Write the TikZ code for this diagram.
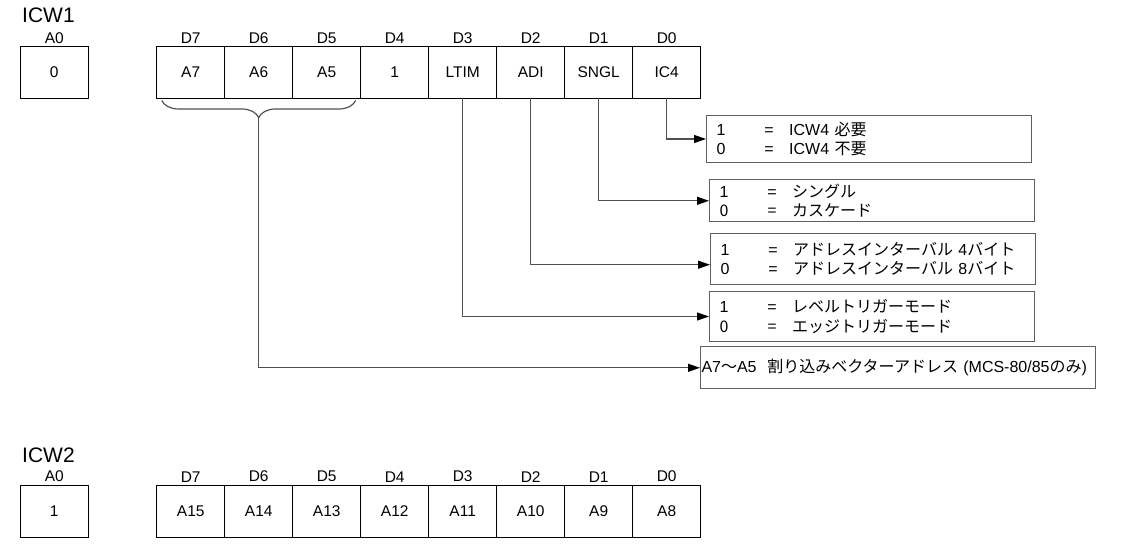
\documentclass[tikz,border=0pt]{standalone}
\usepackage{fontspec}
\setmainfont{Liberation Sans}
\newfontfamily\jpfont{Noto Sans CJK JP}
\usetikzlibrary{positioning, arrows.meta, decorations.pathreplacing}
\definecolor{linegray}{RGB}{80,80,80}
\definecolor{boxgray}{RGB}{95,95,95}
\tikzset{
  regtitle/.style={
    font=\fontsize{21}{24}\selectfont, inner sep=0pt, anchor=west
  },
  bitcell/.style={
    draw=black, line width=0.9pt, outer sep=0pt, inner sep=0pt,
    minimum width=68pt, minimum height=52pt,
    font=\fontsize{15.5}{18}\selectfont
  },
  bitlabel/.style={
    font=\fontsize{15.5}{18}\selectfont, inner sep=0pt
  },
  descbox/.style={
    draw=boxgray, line width=1pt, anchor=north west,
    inner xsep=10pt, inner ysep=0pt, text width=305pt, align=left,
    font=\fontsize{16}{19.3}\selectfont
  },
  connector/.style={
    draw=linegray, line width=1.2pt,
    -{Triangle[length=12pt, width=8pt, black]}
  },
}
\newcommand{\bitrow}[2]{\makebox[48pt][l]{#1}\makebox[24.7pt][l]{=}#2}

\begin{document}
\begin{tikzpicture}[x=1pt, y=-1pt]
  \useasboundingbox (0,0) rectangle (1125,556);

  % ICW1
  \node[regtitle] (icwone) at (22,15) {ICW1};
  \node[bitcell] (w1a0) at (54.3,72.5) {0};
  \node[bitcell] (w1d7) at (190.7,72.5) {A7};
  \node[bitcell, right=0pt of w1d7] (w1d6) {A6};
  \node[bitcell, right=0pt of w1d6] (w1d5) {A5};
  \node[bitcell, right=0pt of w1d5] (w1d4) {1};
  \node[bitcell, right=0pt of w1d4] (w1d3) {LTIM};
  \node[bitcell, right=0pt of w1d3] (w1d2) {ADI};
  \node[bitcell, right=0pt of w1d2] (w1d1) {SNGL};
  \node[bitcell, right=0pt of w1d1] (w1d0) {IC4};

  \node[bitlabel, above=3pt of w1a0] (w1a0lbl) {A0};
  \node[bitlabel, above=3pt of w1d7] (w1d7lbl) {D7};
  \node[bitlabel, above=3pt of w1d6] (w1d6lbl) {D6};
  \node[bitlabel, above=3pt of w1d5] (w1d5lbl) {D5};
  \node[bitlabel, above=3pt of w1d4] (w1d4lbl) {D4};
  \node[bitlabel, above=3pt of w1d3] (w1d3lbl) {D3};
  \node[bitlabel, above=3pt of w1d2] (w1d2lbl) {D2};
  \node[bitlabel, above=3pt of w1d1] (w1d1lbl) {D1};
  \node[bitlabel, above=3pt of w1d0] (w1d0lbl) {D0};

  % Bit descriptions
  \node[descbox, minimum height=47pt] (ic4desc) at (706,115)
        {\bitrow{1}{ICW4 {\jpfont 必要}}\\ \bitrow{0}{ICW4 {\jpfont 不要}}};
  \node[descbox, minimum height=42pt] (sngldesc) at (709,179.3)
        {\bitrow{1}{\jpfont シングル}\\ \bitrow{0}{\jpfont カスケード}};
  \node[descbox, minimum height=51pt] (adidesc) at (710,232.7)
        {\bitrow{1}{{\jpfont アドレスインターバル} 4{\jpfont バイト}}\\
         \bitrow{0}{{\jpfont アドレスインターバル} 8{\jpfont バイト}}};
  \node[descbox, minimum height=50pt] (ltimdesc) at (709,291)
        {\bitrow{1}{\jpfont レベルトリガーモード}\\ \bitrow{0}{\jpfont エッジトリガーモード}};
  \node[descbox, minimum height=42pt, inner xsep=1pt, text width=393pt] (vecdesc) at (700,346.3)
        {A7{\jpfont 〜}A5\ \ {\jpfont 割り込みベクターアドレス} (MCS-80/85{\jpfont のみ})};

  % Brace under A7-A5
  \draw[draw=linegray, line width=1.2pt, decorate, decoration={brace, amplitude=17pt}]
        ([xshift=-5pt, yshift=-2pt]w1d5.south east) -- ([xshift=5pt, yshift=-2pt]w1d7.south west);
  \coordinate (bracetip) at (258.5,118);

  % Connectors
  \draw[connector] (w1d0.south) |- (ic4desc.west);
  \draw[connector] (w1d1.south) |- (sngldesc.west);
  \draw[connector] (w1d2.south) |- ([yshift=-6pt]adidesc.west);
  \draw[connector] (w1d3.south) |- (ltimdesc.west);
  \draw[connector] (bracetip) |- (vecdesc.west);

  % ICW2
  \node[regtitle] (icwtwo) at (22,455) {ICW2};
  \node[bitcell] (w2a0) at (54.3,511.3) {1};
  \node[bitcell] (w2d7) at (190.7,511.3) {A15};
  \node[bitcell, right=0pt of w2d7] (w2d6) {A14};
  \node[bitcell, right=0pt of w2d6] (w2d5) {A13};
  \node[bitcell, right=0pt of w2d5] (w2d4) {A12};
  \node[bitcell, right=0pt of w2d4] (w2d3) {A11};
  \node[bitcell, right=0pt of w2d3] (w2d2) {A10};
  \node[bitcell, right=0pt of w2d2] (w2d1) {A9};
  \node[bitcell, right=0pt of w2d1] (w2d0) {A8};

  \node[bitlabel, above=3pt of w2a0] (w2a0lbl) {A0};
  \node[bitlabel, above=3pt of w2d7] (w2d7lbl) {D7};
  \node[bitlabel, above=3pt of w2d6] (w2d6lbl) {D6};
  \node[bitlabel, above=3pt of w2d5] (w2d5lbl) {D5};
  \node[bitlabel, above=3pt of w2d4] (w2d4lbl) {D4};
  \node[bitlabel, above=3pt of w2d3] (w2d3lbl) {D3};
  \node[bitlabel, above=3pt of w2d2] (w2d2lbl) {D2};
  \node[bitlabel, above=3pt of w2d1] (w2d1lbl) {D1};
  \node[bitlabel, above=3pt of w2d0] (w2d0lbl) {D0};
\end{tikzpicture}
\end{document}
